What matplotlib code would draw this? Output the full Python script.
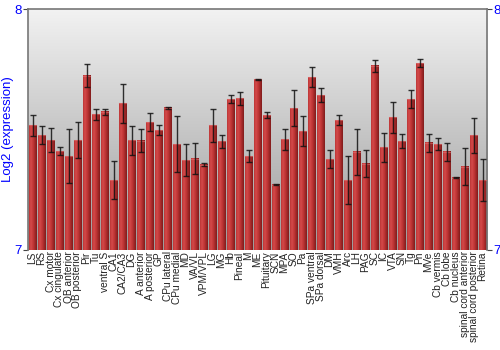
import numpy as np
import matplotlib
matplotlib.use("Agg")
import matplotlib.pyplot as plt
from matplotlib.colors import LinearSegmentedColormap

plt.rcParams['font.family'] = ['Liberation Sans', 'DejaVu Sans']

categories = ["LS", "RS", "Cx motor", "Cx cingulate", "OB anterior", "OB posterior", "Pir", "Tu",
              "ventral S", "CA1", "CA2/CA3", "DG", "A anterior", "A posterior", "GP", "CPu lateral",
              "CPu medial", "MD", "VA/VL", "VPM/VPL", "LG", "MG", "Hb", "Pineal", "M", "ME",
              "Pituitary", "SCN", "MPA", "SO", "Pa", "SPa ventral", "SPa dorsal", "DM", "VMH", "Arc",
              "LH", "PAG", "SC", "IC", "VTA", "SN", "Tg", "Pn", "MVe", "Cb vermis", "Cb lobe",
              "Cb nucleus", "spinal cord anterior", "spinal cord posterior", "Retina"]

values = [7.517, 7.477, 7.456, 7.411, 7.390, 7.456, 7.723, 7.564,
          7.574, 7.290, 7.609, 7.455, 7.454, 7.530, 7.498, 7.590,
          7.440, 7.373, 7.379, 7.354, 7.517, 7.451, 7.627, 7.629, 7.390, 7.708,
          7.560, 7.271, 7.459, 7.588, 7.494, 7.718, 7.643, 7.376, 7.539, 7.290,
          7.407, 7.358, 7.765, 7.427, 7.551, 7.452, 7.625, 7.776, 7.445, 7.439, 7.407,
          7.300, 7.346, 7.476, 7.290]

errors = [0.042, 0.037, 0.049, 0.017, 0.113, 0.075, 0.048, 0.023,
          0.012, 0.079, 0.082, 0.060, 0.047, 0.037, 0.022, 0.003,
          0.116, 0.067, 0.065, 0.005, 0.067, 0.026, 0.015, 0.028, 0.024, 0.002,
          0.011, 0.003, 0.043, 0.074, 0.063, 0.043, 0.030, 0.037, 0.022, 0.099,
          0.096, 0.057, 0.025, 0.060, 0.065, 0.030, 0.037, 0.016, 0.037, 0.026, 0.039,
          0.002, 0.078, 0.073, 0.088]

y_ticks = [7, 8]
y_label = "Log2 (expression)"

fig = plt.figure(figsize=(5, 3.5), dpi=100)
ax = fig.add_axes([0.056, 0.286, 0.918, 0.688])

n = len(categories)
x = np.arange(n)
ymin, ymax = 7, 8

# background gradient
bg = LinearSegmentedColormap.from_list("bg", ["#9c9c9c", "#f2f2f2"])
ax.imshow(np.linspace(0, 1, 256).reshape(-1, 1), cmap=bg, aspect='auto',
          extent=[-0.5, n - 0.5, ymin, ymax], origin='lower', zorder=0)

# bars with horizontal gradient
barcm = LinearSegmentedColormap.from_list(
    "bar", [(0, "#bc3636"), (0.25, "#d44a4a"), (0.55, "#bf3535"), (1, "#801b1b")])
grad = np.linspace(0, 1, 64).reshape(1, -1)
w = 0.88
for xi, v in zip(x, values):
    ax.imshow(grad, cmap=barcm, aspect='auto',
              extent=[xi - w / 2, xi + w / 2, ymin, v], zorder=2)
    ax.plot([xi - w / 2, xi + w / 2], [v, v], color="#e07070", lw=0.8, alpha=0.6, zorder=3)

ax.errorbar(x, values, yerr=errors, fmt='none', ecolor='#111111', elinewidth=1.0,
            capsize=2.5, capthick=1.0, zorder=4, alpha=0.85)

ax.set_xlim(-0.5, n - 0.5)
ax.set_ylim(ymin, ymax)
ax.set_xticks(x)
ax.set_xticklabels(categories, rotation=90, fontsize=7.3, color='#222222')
ax.tick_params(axis='x', length=0, pad=1)
ax.set_yticks(y_ticks)
ax.set_yticklabels([str(t) for t in y_ticks])
ax.tick_params(axis='y', colors='blue', labelsize=9.5, length=3.5, width=0.8,
               left=True, right=True, labelleft=True, labelright=True, pad=1)
ax.tick_params(axis='y', color='#444444')
ax.set_ylabel(y_label, color='blue', fontsize=9.5, labelpad=0)

for s in ['left', 'right', 'top']:
    ax.spines[s].set_color('#777777')
    ax.spines[s].set_linewidth(1.2)
ax.spines['bottom'].set_visible(False)

fig.savefig("out.png", dpi=100)
